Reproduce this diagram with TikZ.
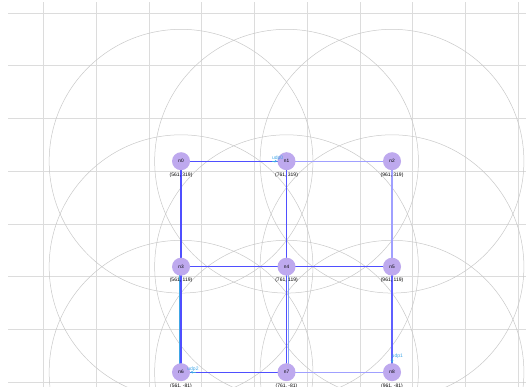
\documentclass[tikz,border=0pt]{standalone}
\usepackage{fontspec}
\setmainfont{Liberation Sans}
\usetikzlibrary{arrows.meta, positioning, calc}
\definecolor{gridgray}{HTML}{DCDCDC}
\definecolor{rangegray}{HTML}{C8C8C8}
\definecolor{nodepurple}{HTML}{BEA9EE}
\definecolor{linkblue}{HTML}{4F4FFF}
\definecolor{linklav}{HTML}{A0A0FF}
\definecolor{flowcyan}{HTML}{3FA6E6}
\begin{document}
\begin{tikzpicture}[x=0.5275pt, y=0.5275pt, shift={(-114.9pt,57.5pt)},
    mote/.style={circle, fill=nodepurple, minimum size=18pt, inner sep=0pt,
                 font=\fontsize{4.8}{5}\selectfont},
    coordlabel/.style={font=\fontsize{5}{5}\selectfont, inner sep=0pt},
    link/.style={linkblue, line width=1.1pt},
    weak/.style={linklav, line width=1.1pt},
    flow/.style={flowcyan, line width=0.6pt},
    tx/.style={-{Stealth[length=2.6pt, width=2.6pt]}, flowcyan, line width=0.7pt},
    tag/.style={font=\fontsize{5}{5}\selectfont, text=flowcyan, inner sep=0.5pt}]
  \useasboundingbox (217.8,-109) rectangle (1215,624.6);
  \clip (217.8,-109) rectangle (1215,624.6);
  % background grid
  \foreach \gx in {300,400,...,1200}
    \draw[gridgray, line width=0.5pt] (\gx,-120) -- (\gx,620.9);
  \foreach \gy in {-100,0,...,600}
    \draw[gridgray, line width=0.5pt] (233,\gy) -- (1230,\gy);
  % radio ranges
  \foreach \py in {319,119,-81}
    \foreach \px in {561,761,961}
      \draw[rangegray, line width=0.5pt] (\px,\py) circle (250);
  % links
  \coordinate (p0) at (561,319); \coordinate (p1) at (761,319); \coordinate (p2) at (961,319);
  \coordinate (p3) at (561,119); \coordinate (p4) at (761,119); \coordinate (p5) at (961,119);
  \coordinate (p6) at (561,-81); \coordinate (p7) at (761,-81); \coordinate (p8) at (961,-81);
  \draw[link] (p0) -- (p1);
  \draw[weak] (p1) -- (p2);
  \draw[link] (p0) -- (p3);
  \draw[link] (p1) -- (p4);
  \draw[weak] (p2) -- (p5);
  \draw[link] (p3) -- (p4);
  \draw[link] (p4) -- (p5);
  \draw[flow] ([xshift=-1.3pt]p3) -- ([xshift=-1.3pt]p6);
  \draw[link] (p3) -- (p6);
  \draw[flow, linklav!70!flowcyan] ([xshift=1.3pt]p4) -- ([xshift=1.3pt]p7);
  \draw[link] (p4) -- (p7);
  \draw[link, linkblue!80!linklav] (p5) -- (p8);
  \draw[link] (p6) -- (p7);
  \draw[weak] (p7) -- (p8);
  % motes
  \foreach \i/\cx/\cy in {0/561/319, 1/761/319, 2/961/319, 3/561/119, 4/761/119,
                          5/961/119, 6/561/-81, 7/761/-81, 8/961/-81}{%
    \node[mote] (n\i) at (p\i) {n\i};
    \node[coordlabel, below=2pt of n\i] (c\i) {(\cx, \cy)};}
  % traffic
  \coordinate (s0) at ([xshift=-5pt]n1.west);
  \draw[tx] (s0) -- (n1.west);
  \node[tag, above right=0pt and -1pt of s0] (t0) {udp0};
  \coordinate (s2) at ([xshift=6pt]n6.east);
  \draw[tx] (s2) -- (n6.east);
  \node[tag, above left=0pt and -3pt of s2] (t2) {udp2};
  \coordinate (s1) at ([yshift=5pt]n8.north);
  \draw[tx] (s1) -- (n8.north);
  \node[tag, above right=-1pt and -1pt of s1] (t1) {udp1};
\end{tikzpicture}
\end{document}
